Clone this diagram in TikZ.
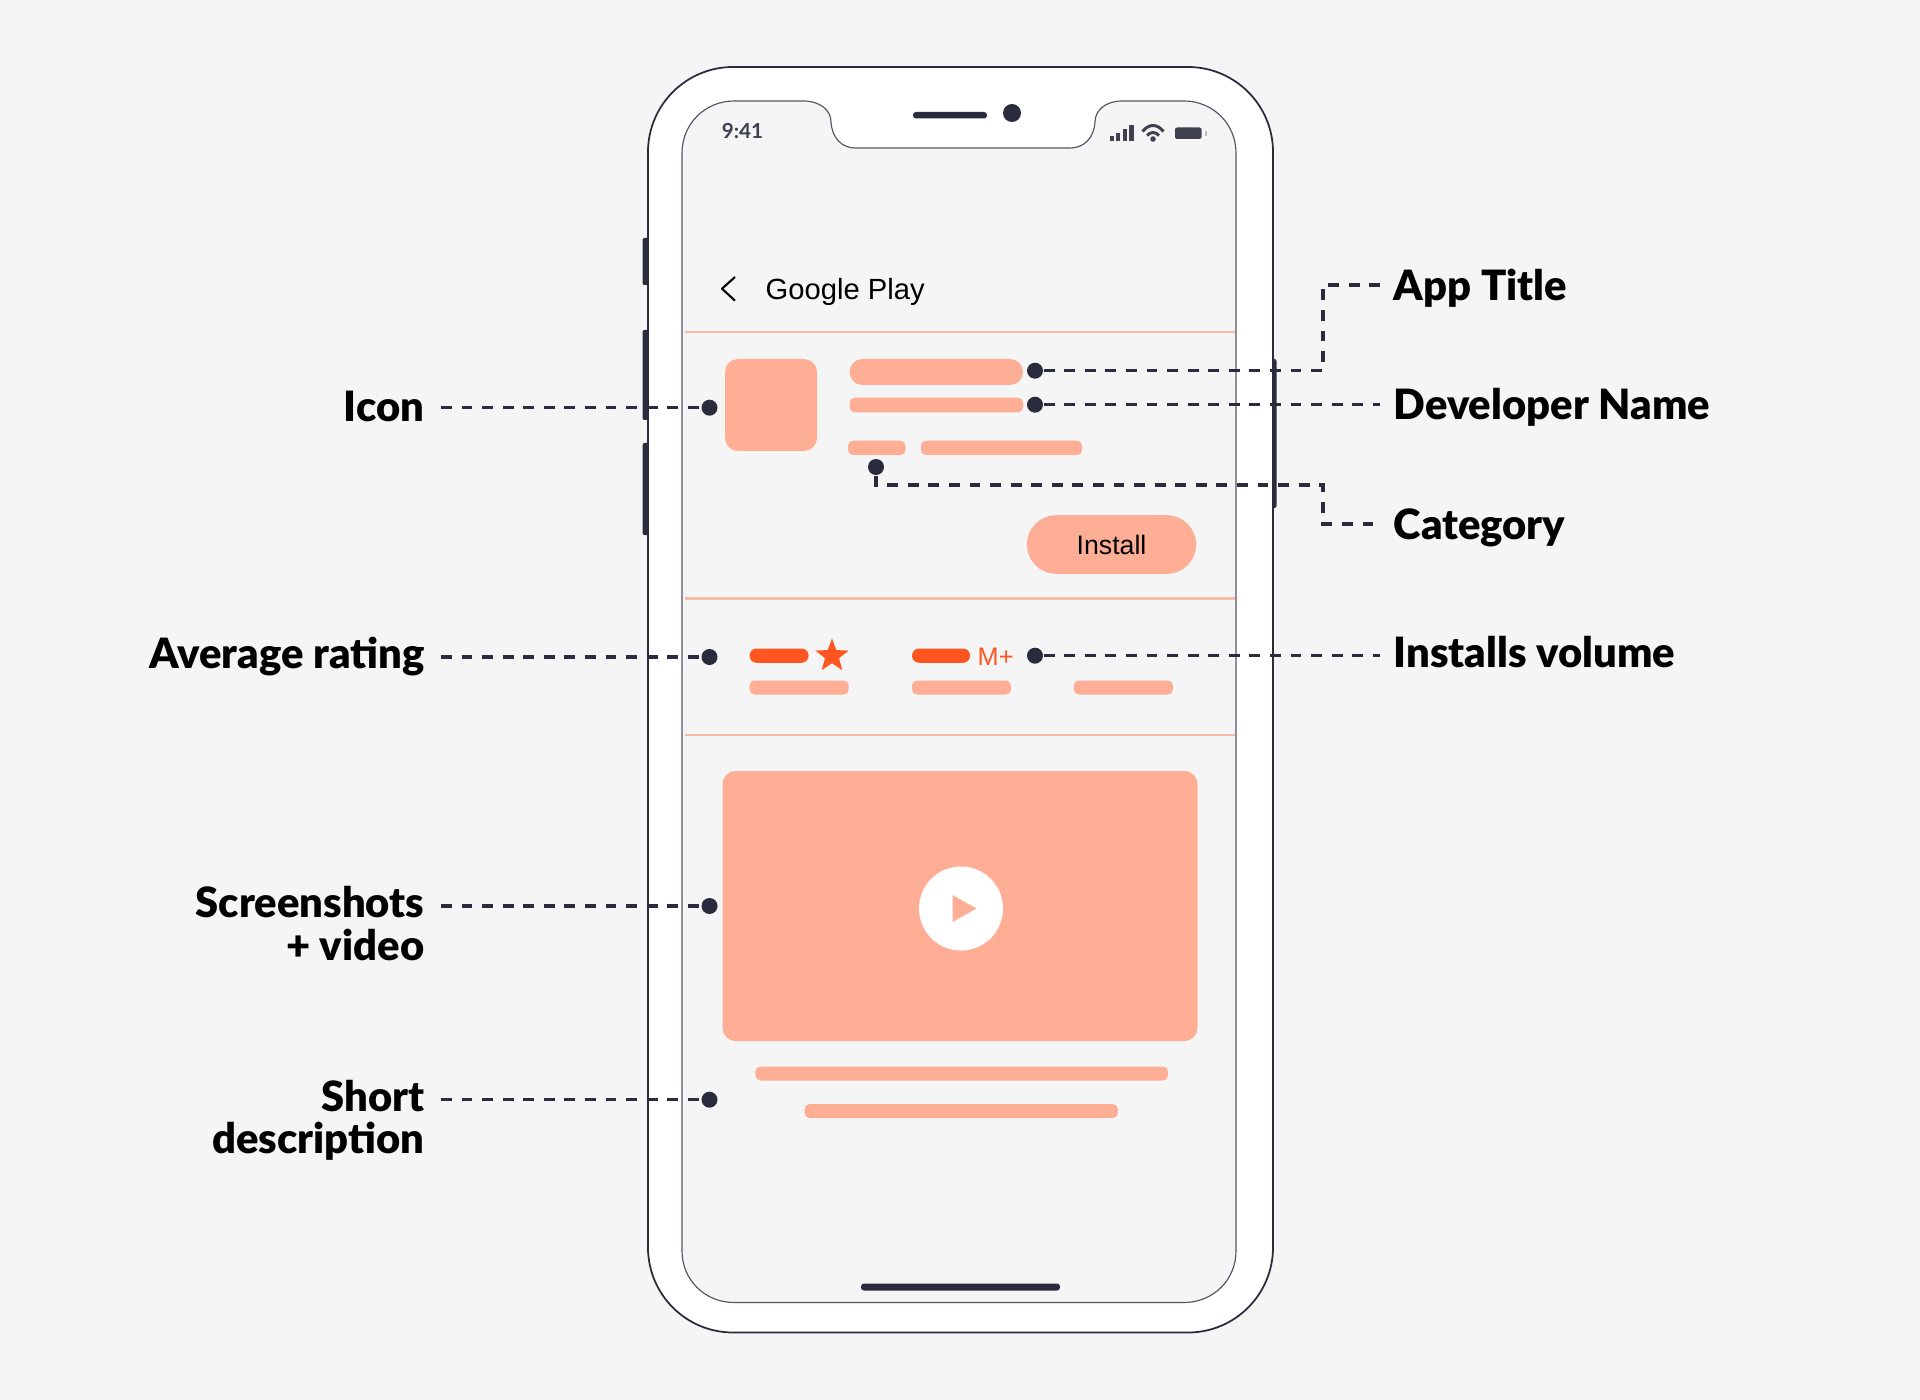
\documentclass[tikz,border=0pt]{standalone}
\usepackage{fontspec}
\usepackage{xcolor}
\usetikzlibrary{positioning,arrows.meta,calc,shapes.geometric}
\setmainfont{Liberation Sans}
\newfontfamily\lblfont{Lato Black}
\newfontfamily\statfont{Lato Bold}
\definecolor{paper}{HTML}{F5F5F5}
\definecolor{ink}{HTML}{2A2C3E}
\definecolor{peach}{HTML}{FFAE96}
\definecolor{flame}{HTML}{FF5520}
\definecolor{rule}{HTML}{F9BBA9}
\tikzset{
  lblL/.style={anchor=base east,inner xsep=0.16cm,inner ysep=0pt,align=right,font=\lblfont\fontsize{11.87}{12}\selectfont,text=black},
  lblR/.style={anchor=base west,inner xsep=0.13cm,inner ysep=0pt,font=\lblfont\fontsize{11.87}{12}\selectfont,text=black},
  dot/.style={circle,fill=ink,inner sep=0pt,minimum size=0.16cm},
  lead/.style={ink,line width=0.95pt,dash pattern=on 3.1pt off 2.75pt},
  pill/.style={fill=peach,rounded corners=0.05cm},
  hot/.style={fill=flame,rounded corners=0.07cm},
  hair/.style={rule,line width=0.6pt},
  phone/.style={draw=ink,line width=0.5pt},
  btn/.style={fill=ink,rounded corners=0.02cm},
  stat/.style={fill=ink!90!white},
}
\newcommand{\pl}[4]{\fill[pill] (#1,#2) rectangle (#3,#4);}
\begin{document}
\begin{tikzpicture}[x=0.01cm,y=-0.01cm]
\useasboundingbox (0,0) rectangle (1920,1400);
\fill[paper] (0,0) rectangle (1920,1400);
\fill[btn] (642.5,238) rectangle (650,285);
\fill[btn] (642.5,330) rectangle (650,420);
\fill[btn] (642.5,443) rectangle (650,535);
\fill[btn] (1270,359) rectangle (1276.5,508);
\draw[phone,fill=white,rounded corners=0.85cm] (648,67) rectangle (1273,1332.5);
\draw[phone,fill=paper,draw=ink!80,line width=0.33pt] (682,153) .. controls (682,124) and (705,101) .. (734,101) -- (803,101)
  .. controls (820,101) and (831,110) .. (831,122) .. controls (832,138) and (842,148) .. (855,148) -- (1070,148)
  .. controls (1084,148) and (1094,138) .. (1095,122) .. controls (1095,110) and (1106,101) .. (1122,101) -- (1184,101)
  .. controls (1213,101) and (1236,124) .. (1236,153) -- (1236,1251) .. controls (1236,1280) and (1213,1302.5) .. (1184,1302.5)
  -- (734,1302.5) .. controls (705,1302.5) and (682,1280) .. (682,1251) -- cycle;
\fill[ink,rounded corners=0.03cm] (913,112) rectangle (987,118.5);
\fill[ink] (1012,113) circle (9);
\fill[ink,rounded corners=0.03cm] (861,1283.5) rectangle (1060,1290.5);
\node[font=\statfont\fontsize{5.9}{6}\selectfont,text=ink!90!white,inner sep=0pt] (clock) at (742.5,130.5) {9:41};
\fill[stat] (1109.5,136) rectangle (1113.5,140.7);
\fill[stat] (1116,132.7) rectangle (1120,140.7);
\fill[stat] (1122.5,129) rectangle (1126.5,140.7);
\fill[stat] (1129,125) rectangle (1133.5,140.7);
\draw[ink!90!white,line width=0.85pt] (1142.5,131.5) .. controls (1149,123.5) and (1157,123.5) .. (1163.5,131.5);
\draw[ink!90!white,line width=0.85pt] (1147,135.5) .. controls (1151,131.5) and (1155,131.5) .. (1159,135.5);
\fill[stat] (1153,139) circle (2.8);
\fill[stat,rounded corners=0.02cm] (1175,127.5) rectangle (1201.5,139);
\fill[black!25] (1205,131) rectangle (1206.5,136);
\draw[black,line width=0.6pt,line join=round] (735,277) -- (722,288.7) -- (735,300.7);
\node[anchor=base west,inner sep=0pt,font=\fontsize{8.3}{10}\selectfont,text=black] (store) at (765,300) {Google Play};
\draw[hair] (685,331.7) -- (1235,331.7);
\draw[hair] (685,598.5) -- (1235,598.5);
\draw[hair] (685,734.7) -- (1235,734.7);
\fill[pill,rounded corners=0.13cm] (725,359) rectangle (817,451);
\fill[pill,rounded corners=0.13cm] (849.5,359) rectangle (1023,385);
\pl{849.5}{397.7}{1023}{412.3}
\pl{848}{440.7}{905.5}{455}
\pl{921}{440.7}{1082}{455}
\node[fill=peach,rounded corners=0.29cm,minimum width=1.69cm,minimum height=0.585cm,inner sep=0pt,font=\fontsize{7.6}{9}\selectfont,text=black] (install) at (1111.5,544.5) {Install};
\fill[hot] (749.6,648.5) rectangle (808.6,662.8);
\node[star,star points=5,star point ratio=2.4,fill=flame,inner sep=0pt,minimum size=0.35cm] (rate) at (832,656) {};
\fill[hot] (912,648.5) rectangle (970,662.8);
\node[anchor=base west,inner sep=0pt,font=\fontsize{7.2}{8}\selectfont,text=flame] (mplus) at (977,665) {M+};
\pl{749.6}{680.5}{848.7}{694.5}
\pl{912}{680.5}{1011}{694.5}
\pl{1073.7}{680.5}{1173}{694.5}
\fill[pill,rounded corners=0.13cm] (722.5,771) rectangle (1197.5,1041);
\fill[white] (961,908.5) circle (42);
\fill[peach] (952.5,895) -- (976.5,908.5) -- (952.5,922) -- cycle;
\pl{755.4}{1066.5}{1168}{1080.5}
\pl{804.7}{1104}{1117.8}{1118}
\node[lblL] (lIcon) at (441,421.5) {Icon};
\node[lblL] (lRate) at (441,669) {Average rating};
\node[lblL] (lShot) at (441,960) {Screenshots\\+ video};
\node[lblL] (lDesc) at (441,1153.5) {Short\\description};
\node[lblR] (lTitle) at (1380,300.5) {App Title};
\node[lblR] (lDev) at (1380,419.5) {Developer Name};
\node[lblR] (lCat) at (1380,539) {Category};
\node[lblR] (lInst) at (1380,667) {Installs volume};
\node[dot] (dIcon) at (709.5,407.7) {};
\node[dot] (dRate) at (709.5,657) {};
\node[dot] (dShot) at (709.5,906) {};
\node[dot] (dDesc) at (709.5,1099.7) {};
\node[dot] (dTitle) at (1035,370.7) {};
\node[dot] (dDev) at (1035,404.7) {};
\node[dot] (dCat) at (876,467) {};
\node[dot] (dInst) at (1035,655.7) {};
\coordinate (eTitle) at (1380,285);
\coordinate (eDev) at (1380,404.7);
\coordinate (eCat) at (1380,524);
\coordinate (eInst) at (1380,655.7);
\draw[lead] (lIcon.east |- dIcon) -- (dIcon);
\draw[lead] (lRate.east |- dRate) -- (dRate);
\draw[lead] (lShot.east |- dShot) -- (dShot);
\draw[lead] (lDesc.east |- dDesc) -- (dDesc);
\draw[lead] (dTitle) -- (1323,370.7) -- (1323,285) -- (eTitle);
\draw[lead] (dDev) -- (eDev);
\draw[lead] (dCat) -- (876,485) -- (1323,485) -- (1323,524) -- (eCat);
\draw[lead] (dInst) -- (eInst);
\end{tikzpicture}
\end{document}
